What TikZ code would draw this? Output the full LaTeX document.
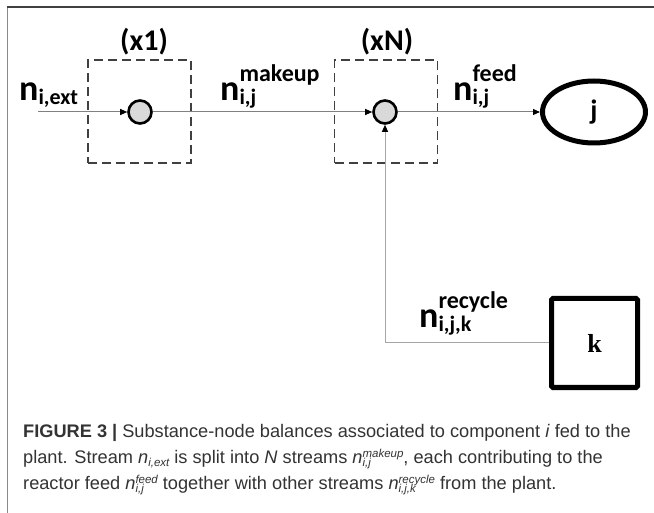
\documentclass[tikz,border=0pt]{standalone}
\usepackage{fontspec}
\setmainfont{Liberation Sans}
\newfontfamily\calib{Carlito}
\newfontfamily\tnr{Liberation Serif}
\usetikzlibrary{arrows.meta,shapes.geometric}
\definecolor{capgray}{HTML}{333333}
\definecolor{framedark}{HTML}{404040}
\definecolor{framelight}{HTML}{8A8A8A}
\definecolor{linegray}{HTML}{808080}
\definecolor{lightline}{HTML}{A6A6A6}
\definecolor{juncfill}{HTML}{D9D9D9}
\newcommand{\nbig}{{\calib\bfseries\fontsize{36}{36}\selectfont n}}
\newcommand{\flowlabs}[1]{\nbig\raisebox{-4pt}{\calib\bfseries\fontsize{22}{22}\selectfont #1}}
\newcommand{\flowlab}[2]{\nbig\rlap{\raisebox{-4pt}{\calib\bfseries\fontsize{22}{22}\selectfont #1}}\raisebox{19pt}{\calib\bfseries\fontsize{24}{24}\selectfont #2}}
\newcommand{\capsmall}[1]{{\fontsize{11.5}{11.5}\selectfont\itshape #1}}
\newcommand{\capns}[1]{\textit{n}\raisebox{-3pt}{\capsmall{#1}}}
\newcommand{\capn}[2]{\textit{n}\rlap{\raisebox{-3.5pt}{\capsmall{#1}}}\raisebox{6pt}{\capsmall{#2}}}
\begin{document}
\begin{tikzpicture}[x=1pt,y=-1pt,
  dbox/.style={draw=framedark, line width=1.2pt, dash pattern=on 9pt off 5pt, minimum width=103pt, minimum height=103pt, inner sep=0pt},
  junc/.style={circle, draw=black, fill=juncfill, line width=2.6pt, minimum size=23pt, inner sep=0pt},
  flow/.style={draw=linegray, line width=1pt, -{Triangle[length=7pt,width=6pt,color=black]}},
  flowlight/.style={draw=lightline, line width=1pt, -{Triangle[length=7pt,width=6pt,color=black]}},
  lab/.style={anchor=base west, inner sep=0pt},
  mult/.style={font=\calib\bfseries\fontsize{30}{30}\selectfont, inner sep=0pt},
  captext/.style={anchor=base west, inner sep=0pt, text=capgray, font=\fontsize{18.2}{22}\selectfont}]
\useasboundingbox (0,0) rectangle (654,513);
\fill[white] (0,0) rectangle (654,513);
\draw[framelight, line width=1.5pt] (7.5,513) -- (7.5,7);
\draw[framedark, line width=1.5pt] (6.75,7) -- (654,7);
% multiplicity labels
\node[mult] (t1) at (144,42) {(x1)};
\node[mult] (t2) at (387,42) {(xN)};
% dashed boxes
\node[dbox] (b1) at (139.5,111.5) {};
\node[dbox] (b2) at (386,111.5) {};
% junctions
\node[junc] (c1) at (140,112) {};
\node[junc] (c2) at (385,112) {};
% reactor j
\node[ellipse, draw=black, line width=5pt, minimum width=103pt, minimum height=62pt, inner sep=0pt] (j) at (594,112) {\calib\bfseries\fontsize{28}{28}\selectfont j};
% unit k
\node[draw=black, line width=5pt, rounded corners=1.5pt, minimum width=86pt, minimum height=89pt, inner sep=0pt] (k) at (594.5,343) {\tnr\bfseries\fontsize{26}{26}\selectfont k};
% connectors
\coordinate (in) at (38,112);
\coordinate (corner) at (385,343);
\draw[flow] (in) -- (c1);
\draw[flow] (c1) -- (c2);
\draw[flow] (c2) -- (j);
\draw[flowlight] (k.west) -- (corner) -- (c2);
% stream labels
\node[lab] (lext) at (19,101) {\flowlabs{i,ext}};
\node[lab] (lmk) at (220,101) {\flowlab{i,j}{makeup}};
\node[lab] (lfd) at (453,101) {\flowlab{i,j}{feed}};
\node[lab] (lrc) at (419,328) {\flowlab{i,j,k}{recycle}};
% caption
\node[captext] (cap1) at (23,437) {\textbf{FIGURE 3 |} Substance-node balances associated to component \textit{i} fed to the};
\node[captext] (cap2) at (23,463) {plant. Stream \capns{i,ext} is split into \textit{N} streams \capn{i,j}{makeup}, each contributing to the};
\node[captext] (cap3) at (23,489) {reactor feed \capn{i,j}{feed} together with other streams \capn{i,j,k}{recycle} from the plant.};
\end{tikzpicture}
\end{document}
